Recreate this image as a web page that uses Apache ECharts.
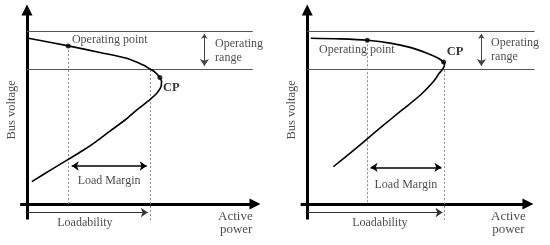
<!DOCTYPE html>
<html>
<head>
<meta charset="utf-8">
<script src="https://cdn.jsdelivr.net/npm/echarts@6/dist/echarts.min.js"></script>
<style>html,body{margin:0;padding:0;background:#fff}#c{width:550px;height:245px}</style>
</head>
<body>
<div id="c"></div>
<script>
// P-V curves (P: active power, V: bus voltage), arbitrary units; axis arrow tips at 100
const leftCurve = [[0.6,85.4],[18.1,81.5],[32.0,78.1],[43.7,75.1],[51.0,71.6],[53.9,69.6],[56.1,68.0],[57.9,65.7],[59.0,63.1],[58.8,60.6],[57.0,57.2],[53.2,53.1],[48.2,48.5],[43.0,43.3],[36.4,37.6],[30.3,32.2],[24.1,27.3],[18.1,23.0],[10.1,17.3],[2.1,11.5]];
const rightCurve = [[1.6,85.4],[14.8,85.1],[27.2,84.4],[38.2,82.8],[47.0,80.6],[54.3,77.7],[59.4,75.1],[61.6,73.2],[62.2,71.6],[61.4,69.6],[59.9,67.5],[57.1,63.0],[51.3,56.2],[43.0,48.5],[37.4,43.3],[29.8,36.1],[21.1,27.8],[11.8,19.2]];
// operating point and critical point (CP)
const leftPoints = [[18.1,81.5],[58.3,65.2]];
const rightPoints = [[27.2,84.4],[61.8,73.2]];
// operating range limits (voltage)
const rangeV = [89.2, 69.6];
// loadability / load margin abscissae [operating P, dashed CP line P]
const leftMarks = [18.1, 54.0];
const rightMarks = [27.2, 62.3];
// texts
const textOp = 'Operating point';
const textCP = 'CP';
const textRange = ['Operating', 'range'];
const textLM = 'Load Margin';
const textLoad = 'Loadability';
const textX = ['Active', 'power'];
const textY = 'Bus voltage';

const FONT = 'Liberation Serif';
const chart = echarts.init(document.getElementById('c'), null, {renderer: 'canvas'});

function panel(i, curve, pts, marks, lay) {
  const ax = {xAxisIndex: i, yAxisIndex: i};
  const s = [];
  // axes
  s.push(Object.assign({type: 'lines', coordinateSystem: 'cartesian2d', symbol: ['none', 'triangle'], symbolSize: [8, 11],
    lineStyle: {color: '#000', width: 3, opacity: 1}, silent: true,
    data: [{coords: [[0, -8], [0, 100]]}, {coords: [[-3, 0], [100, 0]]}]}, ax));
  // operating range horizontal lines
  s.push(Object.assign({type: 'lines', coordinateSystem: 'cartesian2d', symbol: 'none',
    lineStyle: {color: '#555', width: 1, opacity: 1}, silent: true,
    data: [{coords: [[0, rangeV[0]], [lay.hEnd, rangeV[0]]]}, {coords: [[0, rangeV[1]], [lay.hEnd, rangeV[1]]]}]}, ax));
  // operating range arrow
  s.push(Object.assign({type: 'lines', coordinateSystem: 'cartesian2d', symbol: ['arrow', 'arrow'], symbolSize: [5, 7],
    lineStyle: {color: '#444', width: 1, opacity: 1}, silent: true,
    data: [{coords: [[lay.rangeP, rangeV[0] - 1.5], [lay.rangeP, rangeV[1] + 1.5]]}]}, ax));
  // dashed verticals
  s.push(Object.assign({type: 'lines', coordinateSystem: 'cartesian2d', symbol: 'none',
    lineStyle: {color: '#888', width: 1, type: [2, 2], opacity: 1}, silent: true,
    data: [{coords: [[marks[0], pts[0][1]], [marks[0], 0]]}, {coords: [[marks[1], lay.cpTop], [marks[1], -8.2]]}]}, ax));
  // load margin arrow
  s.push(Object.assign({type: 'lines', coordinateSystem: 'cartesian2d', symbol: ['arrow', 'arrow'], symbolSize: [7, 7],
    lineStyle: {color: '#000', width: 1.5, opacity: 1}, silent: true,
    data: [{coords: [[marks[0] + 1.5, lay.lmV], [marks[1] - 1.5, lay.lmV]]}]}, ax));
  // loadability arrow
  s.push(Object.assign({type: 'lines', coordinateSystem: 'cartesian2d', symbol: ['none', 'arrow'], symbolSize: [5, 7],
    lineStyle: {color: '#333', width: 1, opacity: 1}, silent: true,
    data: [{coords: [[0, -4.4], [marks[1] - 1, -4.4]]}]}, ax));
  // curve
  s.push(Object.assign({type: 'line', data: curve, smooth: 0.3, symbol: 'none',
    lineStyle: {color: '#000', width: 1.6}, silent: true}, ax));
  // points
  s.push(Object.assign({type: 'scatter', data: pts, symbolSize: 5, itemStyle: {color: '#000'}, silent: true}, ax));
  // texts
  const lab = (pos, text, extra) => ({value: pos, label: Object.assign({show: true, formatter: text, position: 'right', distance: 0,
    fontFamily: FONT, fontSize: 12, color: '#1a1a1a'}, extra || {})});
  const texts = [
    lab(lay.op, textOp),
    lab(lay.cp, textCP, {fontWeight: 'bold', fontSize: 12.5, color: '#000'}),
    lab(lay.r1, textRange[0]),
    lab(lay.r2, textRange[1]),
    lab(lay.lm, textLM, {position: 'inside'}),
    lab(lay.ld, textLoad, {position: 'inside'}),
    lab(lay.a1, textX[0], {fontSize: 13}),
    lab(lay.a2, textX[1], {fontSize: 13}),
    lab(lay.bv, textY, {position: 'inside', rotate: 90, fontSize: 12.5})
  ];
  s.push(Object.assign({type: 'scatter', data: texts, symbolSize: 0, silent: true}, ax));
  return s;
}

const layL = {hEnd: 99, rangeP: 77.8, cpTop: 69, lmV: 19.6,
  op: [19.7, 84.5], cp: [59.6, 59.8], r1: [82.5, 82.5], r2: [82.5, 75.3], lm: [36, 11.9], ld: [25.4, -9.8],
  a1: [83.8, -6.7], a2: [84.6, -13.4], bv: [-6.6, 48.5]};
const layR = {hEnd: 103, rangeP: 78.9, cpTop: 69, lmV: 18.9,
  op: [5.3, 79.4], cp: [63.2, 78.4], r1: [83.3, 83.0], r2: [83.3, 75.8], lm: [44.7, 9.8], ld: [32.9, -9.8],
  a1: [83.3, -6.7], a2: [83.8, -13.4], bv: [-7.0, 48.5]};

const option = {
  animation: false,
  grid: [
    {left: 4.2, top: 0.3, width: 273.6, height: 232.8},
    {left: 285.2, top: 0.3, width: 273.6, height: 232.8}
  ],
  xAxis: [
    {type: 'value', gridIndex: 0, min: -10, max: 110, show: false},
    {type: 'value', gridIndex: 1, min: -10, max: 110, show: false}
  ],
  yAxis: [
    {type: 'value', gridIndex: 0, min: -15, max: 105, show: false},
    {type: 'value', gridIndex: 1, min: -15, max: 105, show: false}
  ],
  series: [].concat(panel(0, leftCurve, leftPoints, leftMarks, layL), panel(1, rightCurve, rightPoints, rightMarks, layR))
};
chart.setOption(option);
</script>
</body>
</html>
